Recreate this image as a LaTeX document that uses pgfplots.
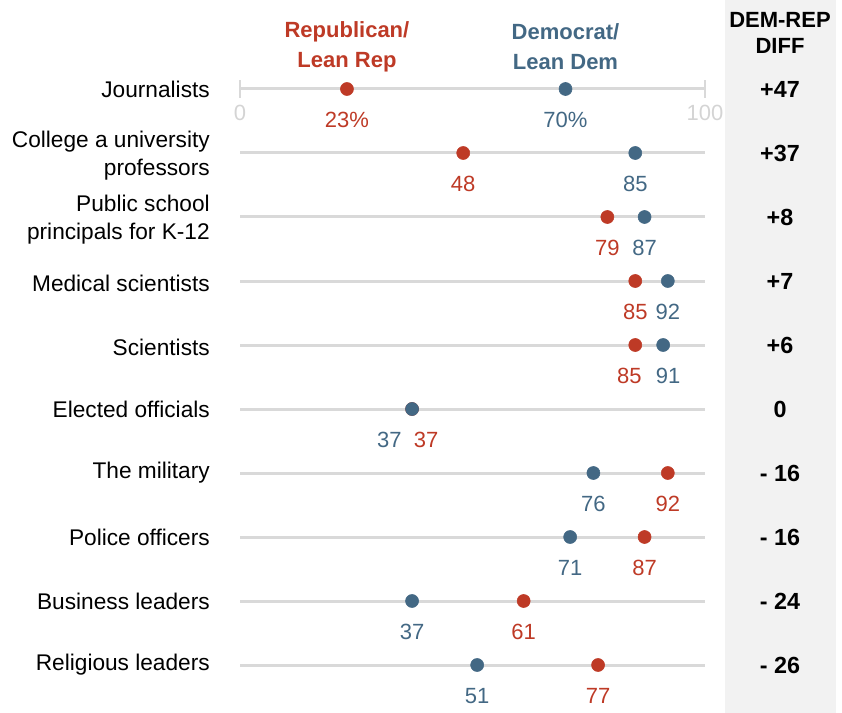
\documentclass[border=0pt]{standalone}
\usepackage{fontspec}
\setmainfont{Liberation Sans}
\usepackage{pgfplots}
\usepackage{pgfplotstable}
\pgfplotsset{compat=1.18}

\definecolor{repred}{RGB}{190,58,38}
\definecolor{demblue}{RGB}{67,104,132}
\definecolor{rowline}{RGB}{217,217,217}
\definecolor{diffbg}{RGB}{242,242,242}
\definecolor{ticklab}{RGB}{212,212,212}

% Share saying each group has a great deal / fair amount of confidence
% dx columns nudge value labels (in pt) where two dots sit close together
\pgfplotstableread{
row dem rep demlab replab demdx repdx diff
1 70 23 {70\%} {23\%} 0 0 {+47}
2 85 48 85 48 0 0 {+37}
3 87 79 87 79 0 0 {+8}
4 92 85 92 85 0 0 {+7}
5 91 85 91 85 3.75 -4.5 {+6}
6 37 37 37 37 -17 10.5 {0}
7 76 92 76 92 0 0 {- 16}
8 71 87 71 87 0 0 {- 16}
9 37 61 37 61 0 0 {- 24}
10 51 77 51 77 0 0 {- 26}
}\scores

\newcommand\labfont{\fontsize{16.5}{21}\selectfont}
\newcommand\rowfont{\fontsize{17}{21}\selectfont}
\newcommand\headfont{\fontsize{16.5}{22.5}\selectfont\bfseries}

\begin{document}
\begin{tikzpicture}
\begin{axis}[
  scale only axis,
  width=631.5pt, height=534.75pt,
  xmin=-51.6129, xmax=129.4624,
  ymin=-0.390625, ymax=10.75,
  y dir=reverse,
  hide axis, clip=false,
]
% frame of the picture and the shaded difference column
\path (axis cs:-51.6129,-0.390625) rectangle (axis cs:129.4624,10.75);
\fill[diffbg] (axis cs:104.3,-0.390625) rectangle (axis cs:128.2,10.75);

% row guide lines
\pgfplotsinvokeforeach{1,...,10}{
  \addplot[rowline, line width=2.25pt, forget plot] coordinates {(0,#1) (100,#1)};
}
% end ticks on the first row
\addplot[rowline, line width=1.5pt, forget plot] coordinates {(0,0.86) (0,1.14)};
\addplot[rowline, line width=1.5pt, forget plot] coordinates {(100,0.86) (100,1.14)};
\node[text=ticklab, font=\labfont] at (axis cs:0,1.375) {0};
\node[text=ticklab, font=\labfont] at (axis cs:100,1.375) {100};

% Republican dots
\addplot[only marks, mark=*, mark size=4.9pt, color=repred,
  nodes near coords, point meta=explicit symbolic,
  visualization depends on={\thisrow{repdx} \as \dx},
  every node near coord/.append style={anchor=center, yshift=-23pt,
    xshift=\dx pt, font=\labfont, text=repred}]
  table[x=rep, y=row, meta=replab] {\scores};

% Democrat dots
\addplot[only marks, mark=*, mark size=4.9pt, color=demblue,
  nodes near coords, point meta=explicit symbolic,
  visualization depends on={\thisrow{demdx} \as \dx},
  every node near coord/.append style={anchor=center, yshift=-23pt,
    xshift=\dx pt, font=\labfont, text=demblue}]
  table[x=dem, y=row, meta=demlab] {\scores};

% difference column
\addplot[draw=none, mark=none,
  nodes near coords, point meta=explicit symbolic,
  every node near coord/.append style={anchor=center,
    font=\fontsize{17.5}{20}\selectfont\bfseries, text=black}]
  table[x expr=116.13, y=row, meta=diff] {\scores};

% headers
\node[align=center, text=repred, font=\headfont] at (axis cs:23,0.344) {Republican/\\Lean Rep};
\node[align=center, text=demblue, font=\headfont] at (axis cs:70,0.344) {Democrat/\\Lean Dem};
\node[align=center, text=black, font=\fontsize{16.5}{19.5}\selectfont\bfseries] at (axis cs:116.13,0.125) {DEM-REP\\DIFF};

% row labels
\begin{scope}[every node/.style={anchor=east, align=right, inner xsep=0pt, font=\rowfont, text=black}]
\node at (axis cs:-6.45,1) {Journalists};
\node at (axis cs:-6.45,2.04) {College a university\\professors};
\node at (axis cs:-6.45,3.04) {Public school\\principals for K-12};
\node at (axis cs:-6.45,4.04) {Medical scientists};
\node at (axis cs:-6.45,5.04) {Scientists};
\node at (axis cs:-6.45,6.0) {Elected officials};
\node at (axis cs:-6.45,7.0) {The military};
\node at (axis cs:-6.45,8.0) {Police officers};
\node at (axis cs:-6.45,9.0) {Business leaders};
\node at (axis cs:-6.45,10.0) {Religious leaders};
\end{scope}
\end{axis}
\end{tikzpicture}
\end{document}
